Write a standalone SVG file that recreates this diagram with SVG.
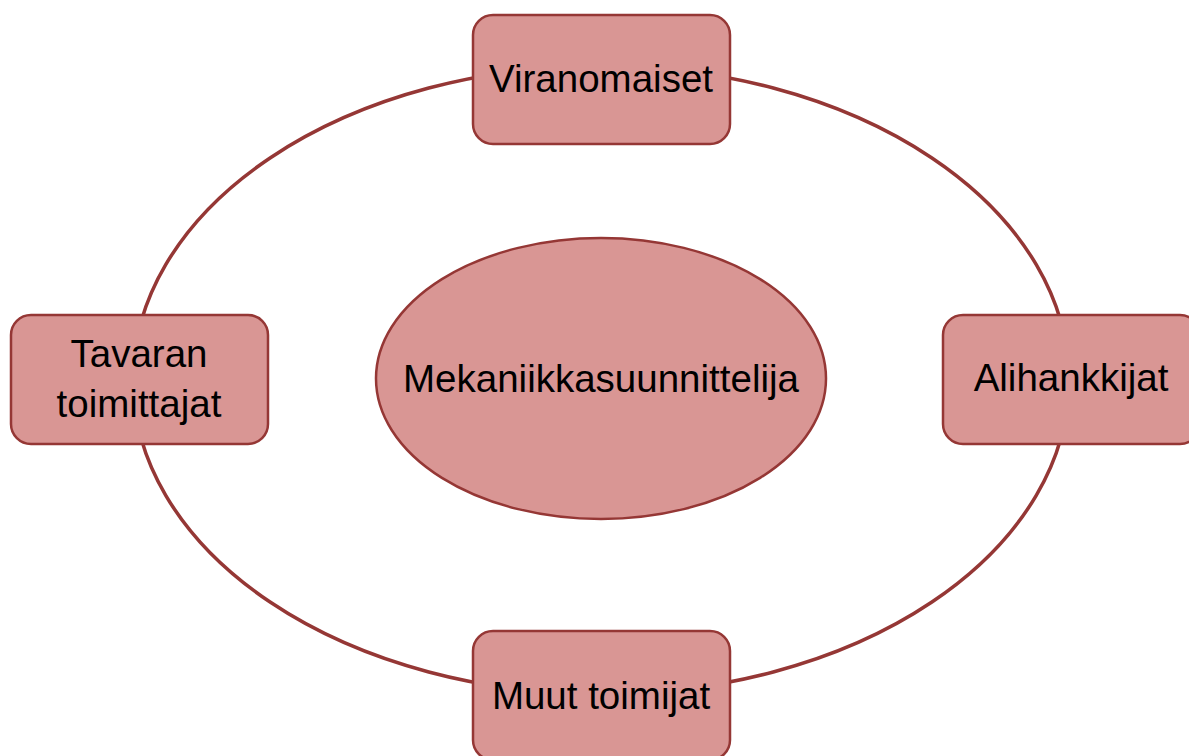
<svg xmlns="http://www.w3.org/2000/svg" width="1189" height="756" viewBox="0 0 1189 756">
<style>
.box{fill:#D99694;stroke:#953735;stroke-width:2.5}
.lbl{font-family:"Liberation Sans",Arial,sans-serif;font-size:38.5px;fill:#000;text-anchor:middle}
.ring{fill:none;stroke:#953735;stroke-width:3.5}
</style>
<rect width="1189" height="756" fill="#fff"/>
<g id="connectors">
<ellipse class="ring" cx="601" cy="380" rx="468" ry="314"/>
</g>
<g id="center">
<ellipse class="box" cx="601" cy="378.5" rx="225" ry="140.5"/>
<text class="lbl" x="601" y="392">Mekaniikkasuunnittelija</text>
</g>
<g id="viranomaiset">
<rect class="box" x="473" y="15" width="257" height="129" rx="20"/>
<text class="lbl" x="601" y="92">Viranomaiset</text>
</g>
<g id="tavaran">
<rect class="box" x="11" y="315" width="257" height="129" rx="20"/>
<text class="lbl" x="139" y="367">Tavaran</text>
<text class="lbl" x="139" y="417">toimittajat</text>
</g>
<g id="alihankkijat">
<rect class="box" x="943" y="315" width="257" height="129" rx="20"/>
<text class="lbl" x="1071" y="391">Alihankkijat</text>
</g>
<g id="muut">
<rect class="box" x="473" y="631" width="257" height="129" rx="20"/>
<text class="lbl" x="601" y="709">Muut toimijat</text>
</g>
</svg>
